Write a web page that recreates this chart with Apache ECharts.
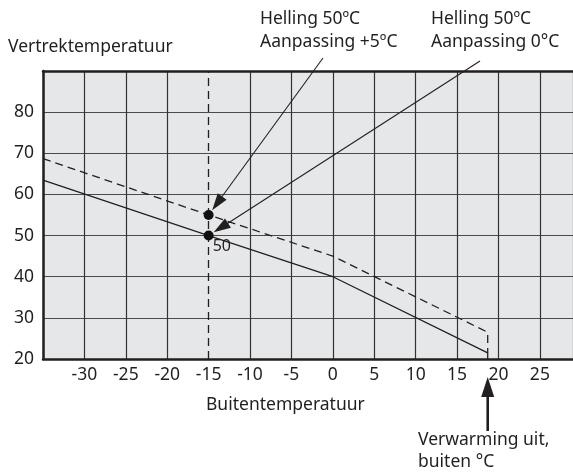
<!DOCTYPE html>
<html>
<head>
<meta charset="utf-8">
<script src="https://cdn.jsdelivr.net/npm/echarts@6/dist/echarts.min.js"></script>
<style>
  html, body { margin: 0; padding: 0; background: #fff; }
  #main { width: 573px; height: 472px; }
</style>
</head>
<body>
<div id="main"></div>
<script>
// buitentemperatuur (°C) van de knikpunten van de stooklijn
var outdoorTemp = [-35, -15, 0, 18.7, 18.7]
// vertrektemperatuur, aanpassing 0°C (doorgetrokken)
var flowOffset0 = [63.5, 50, 40, 21.5, 20]
// vertrektemperatuur, aanpassing +5°C (gestreept)
var flowOffset5 = [68.7, 55, 45, 26.5, 21.5]
// ontwerppunt en markering
var designTemp = -15
var designFlow = [55, 50]
var heatOffTemp = 18.7
var xTicks = [-35, -30, -25, -20, -15, -10, -5, 0, 5, 10, 15, 20, 25]
var yTicks = [20, 30, 40, 50, 60, 70, 80]

var font = '"Noto Sans", sans-serif'
var ink = '#231f20'

var chart = echarts.init(document.getElementById('main'))

function pairs (xs, ys) {
  var out = []
  for (var i = 0; i < xs.length; i++) out.push([xs[i], ys[i]])
  return out
}

// -15 krijgt geen doorgetrokken rasterlijn, daar komt de stippellijn
var vLineColors = xTicks.map(function (v) {
  return v === designTemp ? 'rgba(0,0,0,0)' : '#333'
})

var option = {
  backgroundColor: '#fff',
  animation: false,
  grid: {
    left: 43, right: 0, top: 71, bottom: 113,
    show: true, backgroundColor: '#e6e7e9', borderWidth: 0,
    outerBoundsMode: 'none'
  },
  xAxis: [{
    type: 'value', min: -35, max: 29, interval: 5,
    axisLine: { show: true, onZero: false, lineStyle: { color: ink, width: 2.5 } },
    axisTick: { show: false },
    axisLabel: {
      color: ink, fontSize: 17.5, fontFamily: font, margin: 7,
      formatter: function (v) { return xTicks.indexOf(v) > 0 ? String(v) : '' }
    },
    splitLine: { show: true, lineStyle: { color: vLineColors, width: 1.2 } }
  }, {
    type: 'value', position: 'top', min: -35, max: 29, interval: 5,
    axisLine: { show: true, lineStyle: { color: ink, width: 2.5 } },
    axisTick: { show: false }, axisLabel: { show: false }, splitLine: { show: false }
  }],
  yAxis: {
    type: 'value', min: 20, max: 90, interval: 10,
    axisLine: { show: true, onZero: false, lineStyle: { color: ink, width: 2.5 } },
    axisTick: { show: false },
    axisLabel: {
      color: ink, fontSize: 17.5, fontFamily: font, margin: 9,
      formatter: function (v) { return yTicks.indexOf(v) >= 0 ? String(v) : '' }
    },
    splitLine: { show: true, lineStyle: { color: '#4a4a4a', width: 1.2 } }
  },
  series: [{
    type: 'line',
    data: pairs(outdoorTemp, flowOffset0),
    symbol: 'none',
    lineStyle: { color: ink, width: 1.3 },
    z: 3
  }, {
    type: 'line',
    data: pairs(outdoorTemp, flowOffset5),
    symbol: 'none',
    lineStyle: { color: ink, width: 1.3, type: [8, 5] },
    z: 3,
    markLine: {
      silent: true,
      symbol: 'none',
      label: { show: false },
      lineStyle: { color: ink, width: 1.3, type: [8, 5] },
      data: [{ xAxis: designTemp }]
    }
  }, {
    type: 'scatter',
    symbolSize: 10,
    itemStyle: { color: '#111', opacity: 1 },
    z: 5,
    data: [
      [designTemp, designFlow[0]],
      {
        value: [designTemp, designFlow[1]],
        label: {
          show: true, position: [9, 8], formatter: String(designFlow[1]),
          color: ink, fontSize: 16, fontFamily: font, textBorderWidth: 0
        }
      }
    ]
  }]
}

chart.setOption(option)

function arrow (sx, sy, tx, ty, len, wid, lw) {
  var dx = tx - sx
  var dy = ty - sy
  var d = Math.sqrt(dx * dx + dy * dy)
  var ux = dx / d
  var uy = dy / d
  var bx = tx - ux * len
  var by = ty - uy * len
  var nx = -uy * wid / 2
  var ny = ux * wid / 2
  return [{
    type: 'line', silent: true, z: 20,
    shape: { x1: sx, y1: sy, x2: bx + ux * 2, y2: by + uy * 2 },
    style: { stroke: ink, lineWidth: lw }
  }, {
    type: 'polygon', silent: true, z: 20,
    shape: { points: [[tx, ty], [bx + nx, by + ny], [bx - nx, by - ny]] },
    style: { fill: ink }
  }]
}

function toward (p, from, gap) {
  var dx = from[0] - p[0]
  var dy = from[1] - p[1]
  var d = Math.sqrt(dx * dx + dy * dy)
  return [p[0] + dx / d * gap, p[1] + dy / d * gap]
}

function text (str, x, y) {
  return {
    type: 'text', left: x, top: y, silent: true, z: 20,
    style: { text: str, fill: ink, font: '17.5px ' + font }
  }
}

var dotHigh = chart.convertToPixel({ gridIndex: 0 }, [designTemp, designFlow[0]])
var dotLow = chart.convertToPixel({ gridIndex: 0 }, [designTemp, designFlow[1]])
var offX = chart.convertToPixel({ gridIndex: 0 }, [heatOffTemp, 20])[0]

var s1 = [323, 58]
var s2 = [480, 61]
var t1 = toward(dotHigh, s1, 6)
var t2 = toward(dotLow, s2, 6)

var graphics = []
  .concat(arrow(s1[0], s1[1], t1[0], t1[1], 17, 11, 1.1))
  .concat(arrow(s2[0], s2[1], t2[0], t2[1], 17, 11, 1.1))
  .concat(arrow(offX, 431, offX, 377, 20, 13, 2.6))
  .concat([
    text('Vertrektemperatuur', 8, 38),
    text('Helling 50ºC', 260, 10),
    text('Aanpassing +5ºC', 260, 33),
    text('Helling 50ºC', 431, 10),
    text('Aanpassing 0°C', 431, 33),
    text('Buitentemperatuur', 206, 396),
    text('Verwarming uit,', 418, 431),
    text('buiten °C', 418, 453)
  ])

chart.setOption({ graphic: graphics })
</script>
</body>
</html>
